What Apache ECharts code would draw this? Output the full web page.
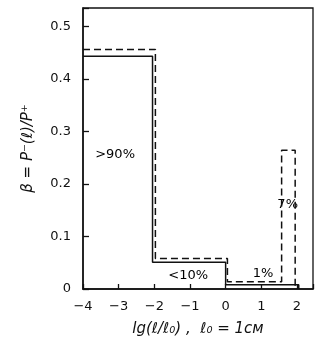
<!DOCTYPE html>
<html><head><meta charset="utf-8">
<script src="https://cdn.jsdelivr.net/npm/echarts@6/dist/echarts.min.js"></script>
<style>html,body{margin:0;padding:0;background:#fff}#c{width:327px;height:351px}</style>
</head><body><div id="c"></div>
<script>
// Histogram bin edges (lg(l/l0)) and heights (beta)
const solidEdges = [-4, -2.05, 0, 2.05];
const solidHeights = [0.443, 0.051, 0.008];
const dashedEdges = [-4, -1.97, 0.05, 1.57, 1.95];
const dashedHeights = [0.456, 0.058, 0.014, 0.264];
const xTicks = [-4, -3, -2, -1, 0, 1, 2];
const yTicks = [0, 0.1, 0.2, 0.3, 0.4, 0.5];
const annoText = ['>90%', '<10%', '1%', '7%'];
const annoX = [-3.1, -1.05, 1.05, 1.74];
const annoY = [0.255, 0.025, 0.029, 0.16];

function outline(edges, heights) {
  const pts = [];
  for (let i = 0; i < heights.length; i++) {
    pts.push([edges[i], heights[i]]);
    pts.push([edges[i + 1], heights[i]]);
  }
  pts.push([edges[edges.length - 1], 0]);
  return pts;
}

const chart = echarts.init(document.getElementById('c'), null, {renderer: 'canvas'});
const ink = '#111';
const font = 'DejaVu Sans';
chart.setOption({
  animation: false,
  backgroundColor: '#fff',
  grid: {left: 83, top: 8, right: 14, bottom: 62, show: true, borderColor: ink, borderWidth: 1.3},
  xAxis: {
    type: 'value', min: -4, max: 2.45, interval: 1,
    axisLine: {show: true, onZero: false, lineStyle: {color: ink, width: 1.5}},
    axisTick: {inside: true, length: 5, lineStyle: {color: ink, width: 1.3}},
    splitLine: {show: false},
    axisLabel: {
      color: ink, fontFamily: font, fontSize: 13, margin: 11,
      formatter: v => xTicks.includes(v) ? String(v).replace('-', '\u2212') : ''
    },
    name: 'lg(\u2113/\u2113\u2080) ,  \u2113\u2080 = 1см',
    nameLocation: 'middle', nameGap: 33,
    nameTextStyle: {color: ink, fontFamily: font, fontSize: 15, fontStyle: 'italic'}
  },
  yAxis: {
    type: 'value', min: 0, max: 0.535, interval: 0.1,
    axisLine: {show: true, onZero: false, lineStyle: {color: ink, width: 1.5}},
    axisTick: {inside: true, length: 6, lineStyle: {color: ink, width: 1.3}},
    splitLine: {show: false},
    axisLabel: {
      color: ink, fontFamily: font, fontSize: 13, margin: 12,
      formatter: v => { const t = yTicks.find(a => Math.abs(a - v) < 1e-6); return t === undefined ? '' : String(t); }
    },
    name: '\u03b2 = P\u207b(\u2113)/P\u207a',
    nameLocation: 'middle', nameGap: 47, nameRotate: 90,
    nameTextStyle: {color: ink, fontFamily: font, fontSize: 15, fontStyle: 'italic'}
  },
  series: [
    {type: 'line', data: outline(solidEdges, solidHeights), symbol: 'none',
     lineStyle: {color: ink, width: 1.5}},
    {type: 'line', data: outline(dashedEdges, dashedHeights), symbol: 'none',
     lineStyle: {color: ink, width: 1.5, type: [7, 4]}},
    {type: 'scatter', symbolSize: 1, silent: true,
     itemStyle: {color: 'transparent', opacity: 1},
     data: annoText.map((t, i) => ({value: [annoX[i], annoY[i]], name: t})),
     label: {show: true, position: 'inside', opacity: 1, formatter: p => p.name,
             color: '#000', textBorderWidth: 0, fontFamily: font, fontSize: 13}}
  ]
});
</script></body></html>
